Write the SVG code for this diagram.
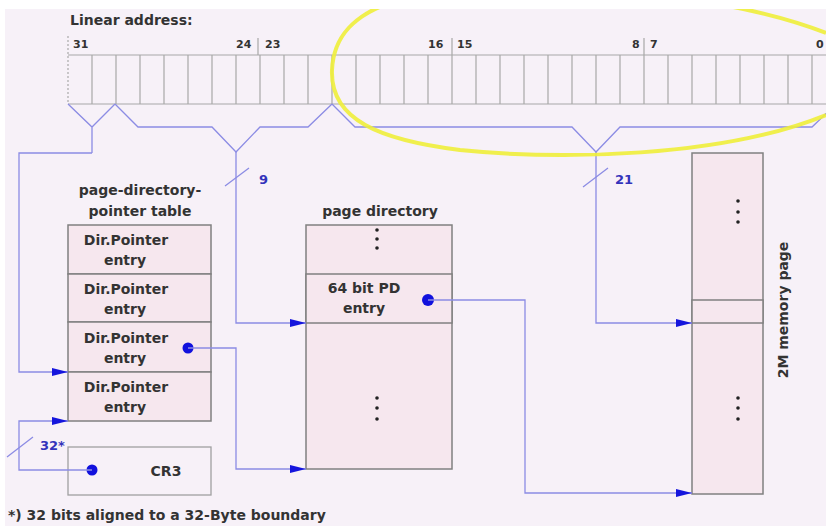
<svg xmlns="http://www.w3.org/2000/svg" width="826" height="526" viewBox="0 0 826 526">
<style>
text{font-family:"DejaVu Sans","Liberation Sans",sans-serif;font-weight:bold;fill:#333}
.bit{font-size:11px}
.lbl{font-size:14px}
.blue{fill:#3333bb;font-size:13px}
.cell{stroke:#a8a8a8;stroke-width:1.2}
.box{fill:#f6e7ee;stroke:#808080;stroke-width:1.5}
.con{fill:none;stroke:#8c8ce4;stroke-width:1.3}
.arr{fill:none;stroke:#8c8ce4;stroke-width:1.3;marker-end:url(#ah)}
.dot{fill:#1111dd}
.sm{fill:#222}
</style>
<defs>
<marker id="ah" viewBox="0 0 16 8" refX="16" refY="4" markerWidth="16" markerHeight="8" markerUnits="userSpaceOnUse" orient="auto">
<path d="M0,0 L16,4 L0,8 z" fill="#1515dd"/>
</marker>
</defs>
<rect width="826" height="526" fill="#ffffff"/>
<rect x="5" y="9" width="821" height="517" fill="#f7f1f8"/>

<g id="register">
<text x="70" y="25" class="lbl">Linear address:</text>
<text x="73" y="48" class="bit">31</text>
<text x="236" y="48" class="bit">24</text>
<text x="265" y="48" class="bit">23</text>
<text x="428" y="48" class="bit">16</text>
<text x="457" y="48" class="bit">15</text>
<text x="632" y="48" class="bit">8</text>
<text x="650" y="48" class="bit">7</text>
<text x="816" y="48" class="bit">0</text>
<path d="M68,36 V104" stroke="#aaa" stroke-width="1.2" stroke-dasharray="2,2"/>
<path d="M258,38 V55 M452,38 V55 M644,38 V55" class="cell"/>
<path d="M68,55 H836 M68,104 H836" class="cell"/>
<path class="cell" d="M92,55V104M116,55V104M140,55V104M164,55V104M188,55V104M212,55V104M236,55V104M260,55V104M284,55V104M308,55V104M332,55V104M356,55V104M380,55V104M404,55V104M428,55V104M452,55V104M476,55V104M500,55V104M524,55V104M548,55V104M572,55V104M596,55V104M620,55V104M644,55V104M668,55V104M692,55V104M716,55V104M740,55V104M764,55V104M788,55V104M812,55V104"/>
</g>

<g id="pdpt">
<text x="140" y="195" class="lbl" text-anchor="middle">page-directory-</text>
<text x="140" y="216" class="lbl" text-anchor="middle">pointer table</text>
<rect x="68" y="225" width="143" height="49" class="box"/>
<rect x="68" y="274" width="143" height="48" class="box"/>
<rect x="68" y="322" width="143" height="50" class="box"/>
<rect x="68" y="372" width="143" height="49" class="box"/>
<text x="126" y="245" class="lbl" text-anchor="middle">Dir.Pointer</text>
<text x="125" y="265" class="lbl" text-anchor="middle">entry</text>
<text x="126" y="294" class="lbl" text-anchor="middle">Dir.Pointer</text>
<text x="125" y="314" class="lbl" text-anchor="middle">entry</text>
<text x="126" y="343" class="lbl" text-anchor="middle">Dir.Pointer</text>
<text x="125" y="363" class="lbl" text-anchor="middle">entry</text>
<text x="126" y="392" class="lbl" text-anchor="middle">Dir.Pointer</text>
<text x="125" y="412" class="lbl" text-anchor="middle">entry</text>
<circle cx="188" cy="348" r="5.5" class="dot"/>
</g>

<g id="cr3">
<rect x="68" y="447" width="143" height="48" fill="#f7f1f8" stroke="#a0a0a0" stroke-width="1.3"/>
<text x="166" y="476" class="lbl" text-anchor="middle">CR3</text>
<circle cx="92" cy="470" r="5.5" class="dot"/>
</g>

<g id="pd">
<text x="380" y="216" class="lbl" text-anchor="middle">page directory</text>
<rect x="306" y="225" width="146" height="244" class="box"/>
<rect x="306" y="274" width="146" height="49" class="box"/>
<circle cx="377" cy="230" r="1.8" class="sm"/><circle cx="377" cy="239" r="1.8" class="sm"/><circle cx="377" cy="248" r="1.8" class="sm"/>
<circle cx="377" cy="398" r="1.8" class="sm"/><circle cx="377" cy="408" r="1.8" class="sm"/><circle cx="377" cy="419" r="1.8" class="sm"/>
<text x="364" y="293" class="lbl" text-anchor="middle">64 bit PD</text>
<text x="364" y="313" class="lbl" text-anchor="middle">entry</text>
<circle cx="428" cy="300" r="6" class="dot"/>
</g>

<g id="mempage">
<rect x="692" y="153" width="71" height="341" class="box"/>
<rect x="692" y="300" width="71" height="23" class="box"/>
<circle cx="738" cy="201" r="1.8" class="sm"/><circle cx="738" cy="212" r="1.8" class="sm"/><circle cx="738" cy="222" r="1.8" class="sm"/>
<circle cx="738" cy="398" r="1.8" class="sm"/><circle cx="738" cy="408" r="1.8" class="sm"/><circle cx="738" cy="419" r="1.8" class="sm"/>
<text transform="translate(788,310) rotate(-90)" class="lbl" text-anchor="middle">2M memory page</text>
</g>

<g id="connectors">
<path class="con" d="M68,104 L92,127 L115,104 M92,127 V153"/>
<path class="arr" d="M92,153 H19 V372 H68"/>
<path class="con" d="M115,104 L138,127 H212 L236,152 L260,127 H308 L332,104"/>
<path class="arr" d="M236,152 V323 H306"/>
<path class="con" d="M332,104 L355,127 H572 L596,152 L620,127 H812 L836,104"/>
<path class="arr" d="M596,152 V323 H692"/>
<path class="arr" d="M188,348 H236 V469 H306"/>
<path class="arr" d="M428,300 H525 V493 H692"/>
<path class="arr" d="M92,470 H19 V421 H68"/>
<path class="con" d="M225,186 L249,168 M583,187 L608,168 M7,457 L33,437"/>
<text x="259" y="184" class="blue">9</text>
<text x="615" y="184" class="blue">21</text>
<text x="40" y="450" class="blue">32*</text>
</g>

<g id="highlight">
<path d="M826,33 C780,15 700,-5 560,-15 C420,-15 335,0 332,70 C330,120 380,140 460,150 C560,160 720,158 826,115" fill="none" stroke="#eeee3a" stroke-width="4" opacity="0.9"/>
<rect width="826" height="9" fill="#ffffff"/>
</g>

<g id="footnote">
<text x="8" y="520" class="lbl">*) 32 bits aligned to a 32-Byte boundary</text>
</g>
</svg>
